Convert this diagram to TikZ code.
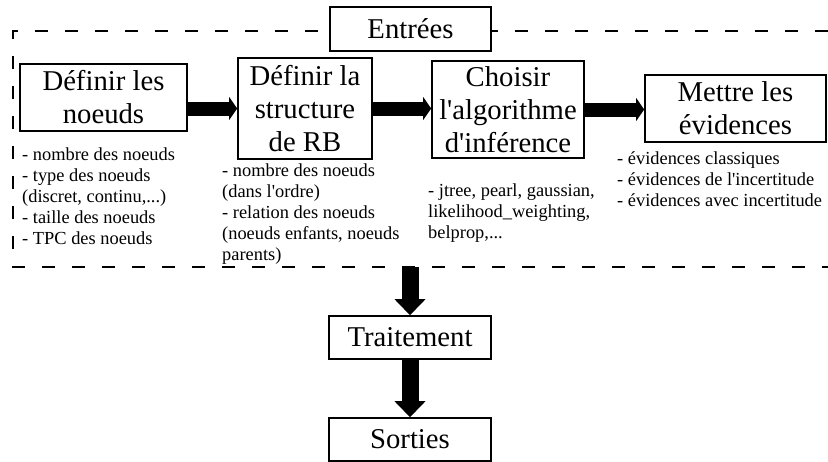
\documentclass[tikz,border=0pt]{standalone}
\usepackage{fontspec}
\setmainfont{Liberation Serif}
\usetikzlibrary{positioning,
        arrows.meta}
\newcommand{\apos}{\textquotesingle}

\tikzset{
        etape/.style={draw,line width=1.6pt,fill=white,align=center,inner sep=0pt,
                font=\fontsize{28.7}{33}\selectfont},
        note/.style={anchor=base west,align=left,inner sep=0pt,
                font=\fontsize{18.4}{21}\selectfont},
        fleche/.style={line width=14pt,-{Triangle[length=8pt,width=23pt,line width=0pt]}},
        flechebas/.style={line width=17pt,-{Triangle[length=16pt,width=31pt,line width=0pt]}},
        cadre/.style={line width=1.6pt,dash pattern=on 13pt off 17pt}
}

\begin{document}
\begin{tikzpicture}[x=1pt,y=-1pt]
        \useasboundingbox (0,0) rectangle (828,461);
        % cadre des entrees
        \draw [cadre] (828,31) -- (13,31) -- (13,267) -- (828,267);
        \node [etape,minimum width=161pt,minimum height=44pt] (entrees) at (410.5,29) {Entrées};

        \node [etape,minimum width=167pt,minimum height=67pt] (noeuds) at (103.5,97.5) {Définir les\\noeuds};
        \node [etape,minimum width=134pt,minimum height=101pt] (structure) at (305,108.5) {Définir la\\structure\\de RB};
        \node [etape,minimum width=152pt,minimum height=97pt] (algo) at (508,109.5) {Choisir\\l\apos algorithme\\d\apos inférence};
        \node [etape,minimum width=181pt,minimum height=67pt] (evidences) at (735.5,108.5) {Mettre les\\évidences};

        % la ligne de base du node est celle de sa derniere ligne
        \node [note] (n1) at (22,244) {- nombre des noeuds\\- type des noeuds\\(discret, continu,...)\\- taille des noeuds\\- TPC des noeuds};
        \node [note] (n2) at (222,260) {- nombre des noeuds\\(dans l\apos ordre)\\- relation des noeuds\\(noeuds enfants, noeuds\\parents)};
        \node [note] (n3) at (428,238) {- jtree, pearl, gaussian,\\likelihood\_weighting,\\belprop,...};
        \node [note] (n4) at (617,206) {- évidences classiques\\- évidences de l\apos incertitude\\- évidences avec incertitude};

        \node [etape,minimum width=162pt,minimum height=43pt] (traitement) at (410,337.5) {Traitement};
        \node [etape,minimum width=162pt,minimum height=43pt] (sorties) at (410,439.5) {Sorties};
        \coordinate (bas cadre) at (410,267);

        \draw [fleche] (noeuds.east |- structure.west) -- (structure.west);
        \draw [fleche] (structure.east) -- (structure.east -| algo.west);
        \draw [fleche] (algo.east) -- (algo.east -| evidences.west);
        \draw [flechebas] (bas cadre) -- (traitement.north);
        \draw [flechebas] (traitement.south) -- (sorties.north);
\end{tikzpicture}
\end{document}
